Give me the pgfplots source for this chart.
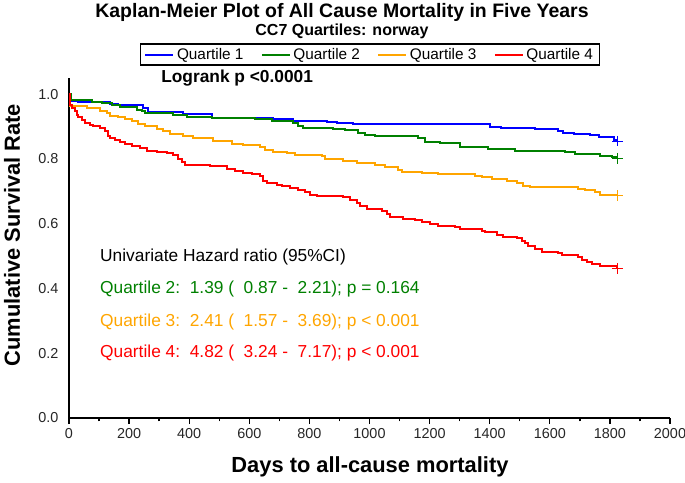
\documentclass[border=0pt]{standalone}
\usepackage{pgfplots}
\pgfplotsset{compat=1.18}
\usepackage{pgfplotstable}
\usepackage{fontspec}
\setmainfont{Liberation Sans}
\definecolor{kmblue}{RGB}{0,0,255}
\definecolor{kmgreen}{RGB}{0,128,0}
\definecolor{kmorange}{RGB}{255,165,0}
\definecolor{kmred}{RGB}{255,0,0}

\pgfplotstableread{
d v
0 1.0
5 0.978
30 0.975
136 0.970
163 0.966
246 0.957
263 0.945
379 0.938
476 0.928
679 0.922
745 0.918
859 0.914
892 0.910
945 0.907
1401 0.900
1438 0.897
1551 0.892
1627 0.885
1644 0.881
1680 0.877
1734 0.873
1764 0.868
1814 0.860
1825 0.855
}\qone

\pgfplotstableread{
d v
0 1.0
5 0.981
77 0.976
110 0.973
143 0.968
170 0.961
226 0.952
243 0.947
253 0.942
346 0.937
393 0.931
476 0.926
619 0.923
676 0.918
745 0.911
762 0.903
779 0.897
879 0.893
918 0.888
962 0.880
985 0.875
1018 0.870
1161 0.865
1185 0.852
1235 0.849
1301 0.837
1394 0.832
1484 0.826
1651 0.821
1684 0.815
1767 0.808
1807 0.805
1825 0.802
}\qtwo

\pgfplotstableread{
d v
0 1.0
3 0.963
60 0.957
103 0.949
126 0.942
136 0.934
163 0.930
186 0.923
210 0.916
230 0.908
253 0.901
293 0.892
313 0.885
336 0.877
379 0.870
413 0.865
479 0.855
542 0.847
579 0.844
636 0.836
652 0.828
679 0.823
725 0.818
752 0.813
842 0.808
852 0.800
912 0.795
958 0.787
1018 0.782
1052 0.774
1095 0.767
1108 0.761
1175 0.758
1228 0.753
1351 0.748
1374 0.743
1408 0.738
1458 0.733
1491 0.727
1511 0.717
1534 0.712
1694 0.707
1717 0.703
1750 0.698
1767 0.689
1825 0.687
}\qthree

\pgfplotstableread{
d v
0 1.0
3 0.968
10 0.958
20 0.947
27 0.937
30 0.930
43 0.921
53 0.911
70 0.906
80 0.901
103 0.895
120 0.885
130 0.870
136 0.865
153 0.859
170 0.852
186 0.846
210 0.841
236 0.834
260 0.826
293 0.823
326 0.818
346 0.811
363 0.801
376 0.790
386 0.782
426 0.780
470 0.777
526 0.770
552 0.764
579 0.758
609 0.753
636 0.746
646 0.733
659 0.725
692 0.720
709 0.715
735 0.710
762 0.705
785 0.698
802 0.689
825 0.686
912 0.681
935 0.674
958 0.664
970 0.655
992 0.646
1042 0.638
1058 0.630
1068 0.622
1111 0.615
1151 0.610
1175 0.605
1201 0.600
1228 0.594
1285 0.589
1301 0.584
1374 0.579
1384 0.574
1424 0.566
1444 0.560
1491 0.555
1507 0.548
1517 0.540
1527 0.530
1551 0.521
1574 0.514
1627 0.509
1641 0.502
1694 0.497
1707 0.488
1724 0.481
1740 0.475
1767 0.468
1825 0.462
}\qfour

\begin{document}
\begin{tikzpicture}
\useasboundingbox (-51.75pt,-48pt) rectangle (462pt,313.5pt);
\begin{axis}[
  at={(0pt,0pt)}, anchor=south west,
  scale only axis, width=450.75pt, height=255pt,
  xmin=0, xmax=2000, ymin=0, ymax=1.05,
  axis lines*=left,
  axis line style={line width=1.1pt},
  xtick={0,200,...,2000},
  minor xtick={100,300,...,1900},
  ytick={0,0.2,0.4,0.6,0.8,1.0},
  tick align=outside,
  major tick length=4.5pt, minor tick length=2.5pt,
  every tick/.style={black, line width=1pt},
  y tick style={draw=none},
  tick label style={font=\fontsize{10.8}{13}\selectfont, color=black!85},
  x tick label style={/pgf/number format/1000 sep={}},
  y tick label style={/pgf/number format/.cd, fixed, fixed zerofill, precision=1},
  /pgf/number format/assume math mode=true,
  clip=false,
  legend columns=4,
  legend style={at={(axis description cs:0.5008,1.069)}, anchor=center,
    draw=black, line width=1pt, font=\fontsize{11.5}{13}\selectfont,
    inner xsep=3pt, inner ysep=1pt,
    /tikz/every even column/.append style={column sep=11pt}},
  legend image code/.code={\draw[#1, line width=1.5pt] (0pt,0pt) -- (21pt,0pt);},
]
\addplot[kmblue, line width=1.5pt, const plot] table {\qone};
\addplot[kmgreen, line width=1.5pt, const plot] table {\qtwo};
\addplot[kmorange, line width=1.5pt, const plot] table {\qthree};
\addplot[kmred, line width=1.5pt, const plot] table {\qfour};
\addplot[forget plot, only marks, mark=+, mark size=4pt, line width=0.9pt, kmblue] coordinates {(1825,0.855)};
\addplot[forget plot, only marks, mark=+, mark size=4pt, line width=0.9pt, kmgreen] coordinates {(1825,0.802)};
\addplot[forget plot, only marks, mark=+, mark size=4pt, line width=0.9pt, kmorange] coordinates {(1825,0.687)};
\addplot[forget plot, only marks, mark=+, mark size=4pt, line width=0.9pt, kmred] coordinates {(1825,0.462)};
\legend{Quartile 1, Quartile 2, Quartile 3, Quartile 4}

\node[font=\bfseries\fontsize{14.6}{17}\selectfont] at (axis description cs:0.4542,1.194) {Kaplan-Meier Plot of All Cause Mortality in Five Years};
\node[font=\bfseries\fontsize{12}{14}\selectfont] at (axis description cs:0.4542,1.137) {CC7 Quartiles: norway};
\node[anchor=west, inner sep=0pt, font=\bfseries\fontsize{13}{15}\selectfont] at (axis description cs:0.1531,1.0) {Logrank p <0.0001};

\node[anchor=west, inner sep=0pt, font=\fontsize{13}{15}\selectfont] at (axis cs:103,0.497) {Univariate Hazard ratio (95\%CI)};
\node[anchor=west, inner sep=0pt, text=kmgreen, font=\fontsize{13}{15}\selectfont] at (axis cs:103,0.399) {Quartile 2:\ \ 1.39 (\ \ 0.87 -\ \ 2.21); p = 0.164};
\node[anchor=west, inner sep=0pt, text=kmorange, font=\fontsize{13}{15}\selectfont] at (axis cs:103,0.296) {Quartile 3:\ \ 2.41 (\ \ 1.57 -\ \ 3.69); p < 0.001};
\node[anchor=west, inner sep=0pt, text=kmred, font=\fontsize{13}{15}\selectfont] at (axis cs:103,0.200) {Quartile 4:\ \ 4.82 (\ \ 3.24 -\ \ 7.17); p < 0.001};

\node[font=\bfseries\fontsize{16.4}{19}\selectfont] at (axis description cs:0.5008,-0.1441) {Days to all-cause mortality};
\node[rotate=90, font=\bfseries\fontsize{16.4}{19}\selectfont] at (axis description cs:-0.0948,0.538) {Cumulative Survival Rate};
\end{axis}
\end{tikzpicture}
\end{document}
